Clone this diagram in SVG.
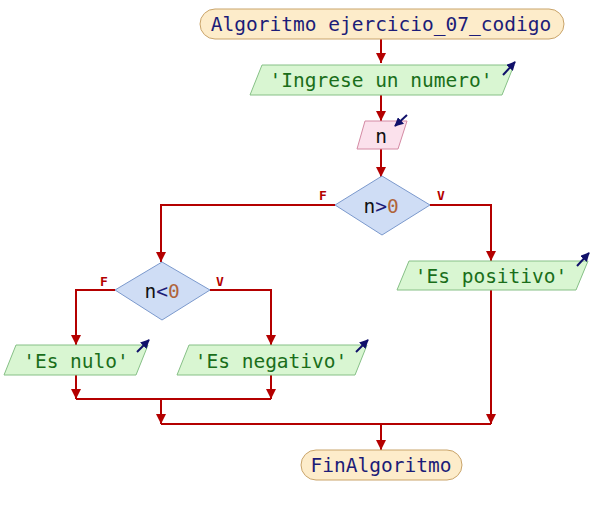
<svg xmlns="http://www.w3.org/2000/svg" width="592" height="515" viewBox="0 0 592 515">
<defs>
<marker id="ah" viewBox="0 0 10 10" refX="10" refY="5" markerWidth="5" markerHeight="5" orient="auto" markerUnits="strokeWidth">
<path d="M0,0 L10,5 L0,10 z" fill="#b40000"/>
</marker>
<marker id="ih" viewBox="0 0 10 10" refX="9" refY="5" markerWidth="4.5" markerHeight="4.5" orient="auto" markerUnits="strokeWidth">
<path d="M0,0 L10,5 L0,10 z" fill="#10106a"/>
</marker>
</defs>
<style>
text{font-family:"DejaVu Sans Mono","Liberation Mono",monospace;font-size:19.5px;text-anchor:middle}
.term{fill:#fdecca;stroke:#c9a46a;stroke-width:1}
.out{fill:#d9f6d2;stroke:#86c086;stroke-width:1}
.inp{fill:#fbe1ec;stroke:#d48aa4;stroke-width:1}
.dec{fill:#cfddf5;stroke:#7b99cd;stroke-width:1}
.tn{fill:#1c1c78}
.tg{fill:#1a6e1a}
.tk{fill:#111}
.num{fill:#b0643a}
.op{fill:#1c1c78}
.lbl{fill:#b40000;font-size:13px;font-weight:bold}
.ln{fill:none;stroke:#b40000;stroke-width:2}
.ar{marker-end:url(#ah)}
.ic{fill:none;stroke:#10106a;stroke-width:2;marker-end:url(#ih)}
</style>
<g id="connectors">
<path class="ln ar" d="M381,39 V63"/>
<path class="ln ar" d="M381,95 V121"/>
<path class="ln ar" d="M381,149 V177"/>
<path class="ln ar" d="M335,205 H161 V262"/>
<path class="ln ar" d="M430,205 H491 V261"/>
<path class="ln ar" d="M115,290 H76 V345"/>
<path class="ln ar" d="M210,290 H271 V345"/>
<path class="ln ar" d="M76,375 V399"/>
<path class="ln ar" d="M271,375 V399"/>
<path class="ln" d="M76,399 H271"/>
<path class="ln ar" d="M161,399 V424"/>
<path class="ln ar" d="M491,290 V424"/>
<path class="ln" d="M161,424 H491"/>
<path class="ln ar" d="M381,424 V450"/>
<text class="lbl" x="323" y="200">F</text>
<text class="lbl" x="441" y="200">V</text>
<text class="lbl" x="104" y="286">F</text>
<text class="lbl" x="220" y="286">V</text>
</g>
<g id="start">
<rect class="term" x="200" y="9" width="364" height="30" rx="15"/>
<text class="tn" x="381" y="31">Algoritmo ejercicio_07_codigo</text>
</g>
<g id="out1">
<polygon class="out" points="262,65 514,65 502,95 250,95"/>
<text class="tg" x="381" y="87">'Ingrese un numero'</text>
<path class="ic" d="M503,75 L515,62"/>
</g>
<g id="in1">
<polygon class="inp" points="365,121 407,121 398,149 357,149"/>
<text class="tk" x="381" y="143">n</text>
<path class="ic" d="M407,115 L395,126"/>
</g>
<g id="dec1">
<polygon class="dec" points="382,176 430,205 382,235 335,205"/>
<text x="381" y="213"><tspan class="tk">n</tspan><tspan class="op">&gt;</tspan><tspan class="num">0</tspan></text>
</g>
<g id="out_pos">
<polygon class="out" points="409,261 588,261 576,290 397,290"/>
<text class="tg" x="491" y="283">'Es positivo'</text>
<path class="ic" d="M577,266 L589,253"/>
</g>
<g id="dec2">
<polygon class="dec" points="162,262 210,290 162,320 115,290"/>
<text x="162" y="298"><tspan class="tk">n</tspan><tspan class="op">&lt;</tspan><tspan class="num">0</tspan></text>
</g>
<g id="out_nulo">
<polygon class="out" points="16,345 148,345 136,375 4,375"/>
<text class="tg" x="76" y="368">'Es nulo'</text>
<path class="ic" d="M137,352 L149,340"/>
</g>
<g id="out_neg">
<polygon class="out" points="189,345 367,345 355,375 177,375"/>
<text class="tg" x="271" y="368">'Es negativo'</text>
<path class="ic" d="M356,352 L368,340"/>
</g>
<g id="end">
<rect class="term" x="301" y="450" width="161" height="30" rx="15"/>
<text class="tn" x="381" y="472">FinAlgoritmo</text>
</g>
</svg>
